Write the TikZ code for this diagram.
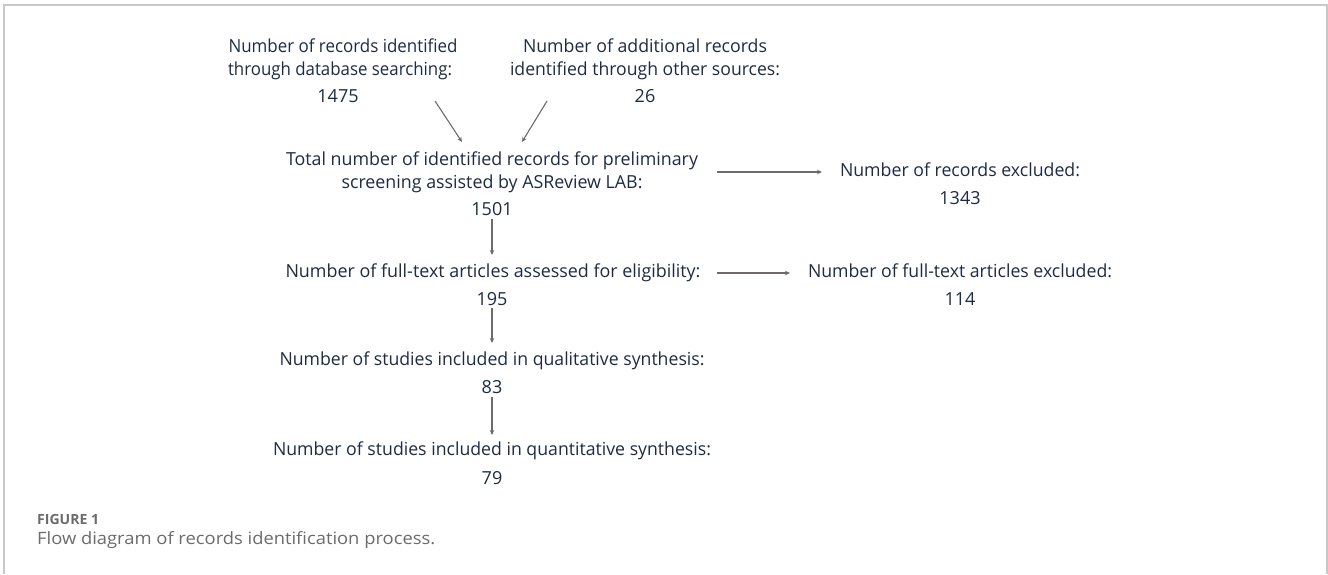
\documentclass[tikz,border=0pt]{standalone}
\usepackage{fontspec}
\setmainfont{Open Sans}
\usetikzlibrary{arrows.meta}
\definecolor{navy}{HTML}{1E2B45}
\definecolor{arrgray}{HTML}{6E6A6A}
\definecolor{capgray}{HTML}{6B6B6B}
\definecolor{framegray}{HTML}{C8C8C8}
\newsavebox\fitbox
\newcommand{\fitw}[2]{\sbox\fitbox{#2}\pgfmathsetmacro\fitfac{#1/\wd\fitbox}\scalebox{\fitfac}[1]{\usebox\fitbox}}
\begin{document}
\begin{tikzpicture}[x=1pt,y=-1pt,
  txt/.style={anchor=base, inner sep=0pt, text=navy, font=\fontsize{18}{22}\selectfont},
  captxt/.style={anchor=base west, inner sep=0pt, text=capgray},
  arr/.style={draw=arrgray, line width=1.1pt, -{Stealth[length=5pt,width=4.5pt]}}]
\useasboundingbox (0,0) rectangle (1328,574);
% frame
\draw[framegray, line width=1.5pt] (4,574) -- (4,5) -- (1327,5) -- (1327,574);
% block 1
\node[txt] (t1a) at (343,52.7) {\fitw{229}{Number of records identified}};
\node[txt] (t1b) at (340,75) {\fitw{224}{through database searching:}};
\node[txt] (n1) at (338,102.7) {1475};
% block 2
\node[txt] (t2a) at (645,52.7) {\fitw{244}{Number of additional records}};
\node[txt] (t2b) at (645,75) {\fitw{270}{identified through other sources:}};
\node[txt] (n2) at (645,102.7) {26};
% block 3
\node[txt] (t3a) at (492,165) {\fitw{412}{Total number of identified records for preliminary}};
\node[txt] (t3b) at (492,188) {\fitw{301}{screening assisted by ASReview LAB:}};
\node[txt] (n3) at (492,215) {1501};
% excluded 1
\node[txt] (t4) at (960,176) {\fitw{240}{Number of records excluded:}};
\node[txt] (n4) at (960,204) {1343};
% full text
\node[txt] (t5) at (493,277) {\fitw{415}{Number of full-text articles assessed for eligibility:}};
\node[txt] (n5) at (492,305) {195};
\node[txt] (t6) at (960,277) {\fitw{304}{Number of full-text articles excluded:}};
\node[txt] (n6) at (960,305) {114};
% qualitative
\node[txt] (t7) at (492,365) {\fitw{425}{Number of studies included in qualitative synthesis:}};
\node[txt] (n7) at (492,393) {83};
% quantitative
\node[txt] (t8) at (492,455) {\fitw{438}{Number of studies included in quantitative synthesis:}};
\node[txt] (n8) at (492,484) {79};
% connector end points
\coordinate (d1s) at (435,101);
\coordinate (d1e) at (462,142);
\coordinate (d2s) at (547,101);
\coordinate (d2e) at (522,142);
\coordinate (h1s) at (717,172);
\coordinate (h1e) at (822,172);
\coordinate (h2s) at (717,273);
\coordinate (h2e) at (790,273);
\coordinate (v1s) at (492,219);
\coordinate (v1e) at (492,255);
\coordinate (v2s) at (492,308);
\coordinate (v2e) at (492,343);
\coordinate (v3s) at (492,397);
\coordinate (v3e) at (492,435);
\draw[arr] (d1s) -- (d1e);
\draw[arr] (d2s) -- (d2e);
\draw[arr] (h1s) -- (h1e);
\draw[arr] (h2s) -- (h2e);
\draw[arr] (v1s) -- (v1e);
\draw[arr] (v2s) -- (v2e);
\draw[arr] (v3s) -- (v3e);
% caption
\node[captxt, font=\bfseries\fontsize{14}{16}\selectfont] (fig) at (37,524) {\fitw{62}{FIGURE 1}};
\node[captxt, font=\fontsize{17}{20}\selectfont] (capt) at (37,544) {\fitw{398}{Flow diagram of records identification process.}};
\end{tikzpicture}
\end{document}
